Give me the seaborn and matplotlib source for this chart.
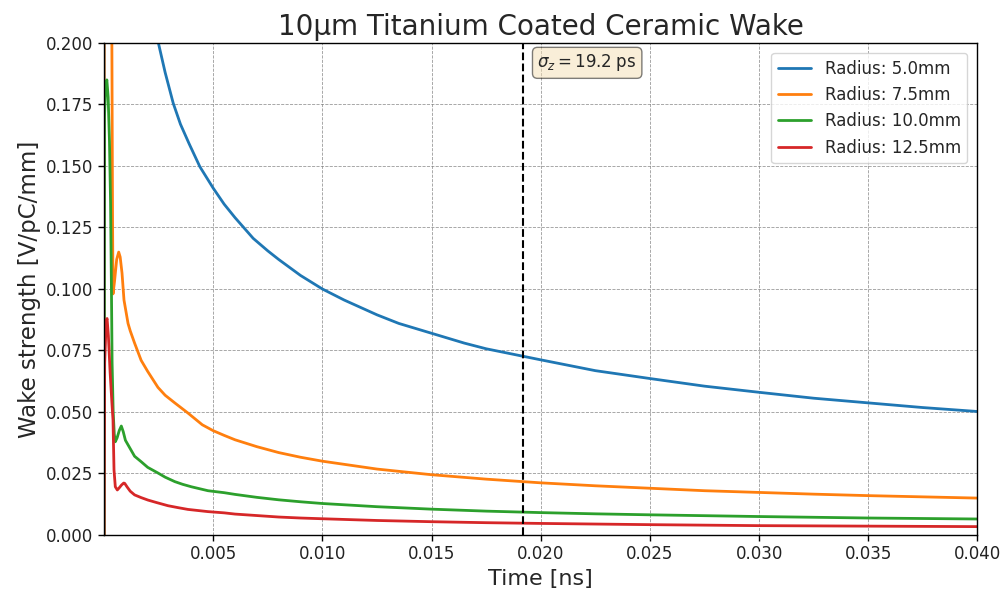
import numpy as np
import pandas as pd
import matplotlib
matplotlib.use("Agg")
import matplotlib.pyplot as plt
import seaborn as sns

# ---- data (time in ns, wake in V/pC/mm) ----
labels = ["Radius: 5.0mm", "Radius: 7.5mm", "Radius: 10.0mm", "Radius: 12.5mm"]
colors = ["#1f77b4", "#ff7f0e", "#2ca02c", "#d62728"]

t_r5 = [0.0, 0.00002, 0.0015, 0.002, 0.00249, 0.0028, 0.00317, 0.0035, 0.0039,
        0.00439, 0.005, 0.0055, 0.006, 0.00683, 0.0075, 0.008, 0.009, 0.01, 0.011,
        0.0125, 0.0135, 0.015, 0.0165, 0.0175, 0.02, 0.0225, 0.025, 0.0275, 0.03,
        0.0325, 0.035, 0.0375, 0.04]
w_r5 = [0.0, 1.0, 0.26, 0.224, 0.200, 0.188, 0.1755, 0.167, 0.159,
        0.1497, 0.141, 0.1345, 0.129, 0.1206, 0.1155, 0.112, 0.1055, 0.100, 0.0955,
        0.0895, 0.086, 0.082, 0.078, 0.0757, 0.0712, 0.0668, 0.0636, 0.0605, 0.058,
        0.0556, 0.0537, 0.0518, 0.0502]

t_r75 = [0.0, 0.00002, 0.0002, 0.0003, 0.00036, 0.00039, 0.000412, 0.00048, 0.00058,
         0.000673, 0.00074, 0.000824, 0.000915, 0.0011, 0.0012, 0.0014, 0.0017, 0.002,
         0.00247, 0.0028, 0.00324, 0.00384, 0.0045, 0.005, 0.0055, 0.006, 0.007,
         0.008, 0.009, 0.01, 0.0125, 0.015, 0.0175, 0.02, 0.0225, 0.025, 0.0275,
         0.03, 0.0325, 0.035, 0.0375, 0.04]
w_r75 = [0.0, 0.6, 0.5, 0.33, 0.2, 0.13, 0.098, 0.103, 0.112,
         0.115, 0.113, 0.1065, 0.0955, 0.086, 0.083, 0.078, 0.071, 0.0665,
         0.060, 0.0568, 0.0537, 0.0496, 0.0448, 0.0424, 0.0405, 0.0387, 0.0359,
         0.0335, 0.0316, 0.030, 0.0268, 0.0245, 0.0227, 0.0212, 0.020, 0.019, 0.018,
         0.0173, 0.0166, 0.016, 0.0155, 0.015]

t_r10 = [0.0, 0.00002, 0.00008, 0.00013, 0.00019, 0.00025, 0.0003, 0.00034, 0.00037,
         0.00042, 0.00047, 0.000517, 0.0006, 0.0007, 0.000792, 0.00088, 0.00098,
         0.00118, 0.0014, 0.0017, 0.002, 0.00247, 0.0028, 0.00324, 0.0036, 0.004,
         0.00476, 0.0055, 0.006, 0.007, 0.008, 0.009, 0.01, 0.0125, 0.015, 0.0175,
         0.02, 0.0225, 0.025, 0.03, 0.035, 0.04]
w_r10 = [0.0, 0.17, 0.183, 0.185, 0.178, 0.16, 0.135, 0.10, 0.07,
         0.05, 0.041, 0.0379, 0.0395, 0.0425, 0.0443, 0.042, 0.0385,
         0.0354, 0.032, 0.0298, 0.0275, 0.0252, 0.0235, 0.0217, 0.0206, 0.0196,
         0.018, 0.0172, 0.0165, 0.0153, 0.0143, 0.0135, 0.0128, 0.0115, 0.0105, 0.0097,
         0.0091, 0.0086, 0.0082, 0.0075, 0.0069, 0.0065]

t_r125 = [0.0, 0.00003, 0.0001, 0.00014, 0.0002, 0.00028, 0.00036, 0.000412, 0.000458,
          0.000517, 0.000609, 0.0007, 0.0008, 0.0009, 0.000947, 0.00106, 0.0012, 0.0014,
          0.0017, 0.00201, 0.0024, 0.00293, 0.0034, 0.00384, 0.00476, 0.0055, 0.006,
          0.007, 0.008, 0.009, 0.01, 0.0125, 0.015, 0.0175, 0.02, 0.025, 0.03, 0.035,
          0.04]
w_r125 = [0.0, 0.07, 0.087, 0.088, 0.081, 0.066, 0.054, 0.0467, 0.0264,
          0.0196, 0.0183, 0.0192, 0.0203, 0.0211, 0.021, 0.0195, 0.0178, 0.0163,
          0.0152, 0.0142, 0.0132, 0.0119, 0.0111, 0.0104, 0.0095, 0.009, 0.0085,
          0.0079, 0.0073, 0.0069, 0.0066, 0.0059, 0.0054, 0.005, 0.0047, 0.0042,
          0.0038, 0.0036, 0.0034]

sigma_z_ns = 0.0192
x_ticks = [0.005, 0.010, 0.015, 0.020, 0.025, 0.030, 0.035, 0.040]
y_ticks = [0.000, 0.025, 0.050, 0.075, 0.100, 0.125, 0.150, 0.175, 0.200]

series_t = [t_r5, t_r75, t_r10, t_r125]
series_w = [w_r5, w_r75, w_r10, w_r125]
frames = []
for lab, tt, ww in zip(labels, series_t, series_w):
    frames.append(pd.DataFrame({"t": tt, "W": ww, "label": lab}))
df = pd.concat(frames, ignore_index=True)

sns.set_style("white")
plt.rcParams['font.family'] = ['DejaVu Sans']

fig = plt.figure(figsize=(10.04, 5.89), dpi=100)
ax = fig.add_axes([0.1036, 0.0917, 0.8700, 0.8353])

sns.lineplot(data=df, x="t", y="W", hue="label", hue_order=labels,
             palette=colors, estimator=None, sort=False, linewidth=2, ax=ax)

ax.axvline(sigma_z_ns, color="black", linestyle="--", linewidth=1.5)
ax.text(sigma_z_ns + 0.00065, 0.1962, r"$\sigma_z = 19.2$ ps", fontsize=12,
        va="top", ha="left",
        bbox=dict(boxstyle="round", facecolor="wheat", edgecolor="black",
                  alpha=0.5))

ax.set_xlim(0, 0.04)
ax.set_ylim(0, 0.2)
ax.set_xticks(x_ticks)
ax.set_yticks(y_ticks)
ax.set_xticklabels([f"{v:.3f}" for v in x_ticks])
ax.set_yticklabels([f"{v:.3f}" for v in y_ticks])
ax.tick_params(axis="both", labelsize=12, direction="out", length=4, width=1,
               bottom=True, left=True, colors="black")
for lab in ax.get_xticklabels() + ax.get_yticklabels():
    lab.set_color("#222222")
ax.grid(True, linestyle="--", linewidth=0.6, color="gray", alpha=0.8)
for sp in ax.spines.values():
    sp.set_color("black")
    sp.set_linewidth(1.0)

ax.set_title("10μm Titanium Coated Ceramic Wake", fontsize=20)
ax.set_xlabel("Time [ns]", fontsize=16)
ax.set_ylabel("Wake strength [V/pC/mm]", fontsize=16.5)

handles, labs = ax.get_legend_handles_labels()
ax.legend(handles, labs, loc="upper right", fontsize=12, frameon=True,
          borderaxespad=0.6)

fig.savefig("out.png", dpi=100)
